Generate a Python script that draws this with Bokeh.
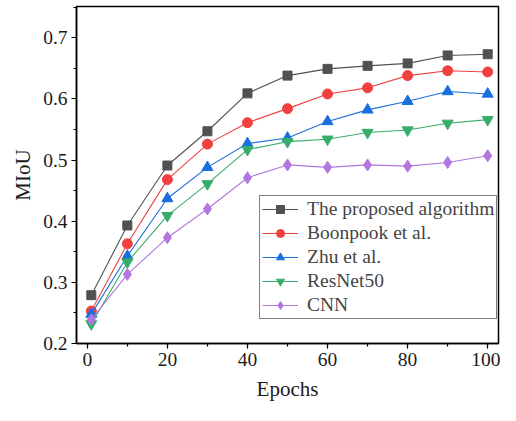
from bokeh.plotting import figure
from bokeh.models import SingleIntervalTicker, Range1d, Legend, LegendItem
from bokeh.embed import file_html
from bokeh.resources import INLINE

epochs = [1, 10, 20, 30, 40, 50, 60, 70, 80, 90, 100]
proposed = [0.279, 0.393, 0.491, 0.547, 0.609, 0.638, 0.649, 0.654, 0.658, 0.671, 0.673]
boonpook = [0.253, 0.363, 0.468, 0.526, 0.561, 0.584, 0.608, 0.618, 0.638, 0.646, 0.644]
zhu = [0.248, 0.343, 0.437, 0.488, 0.527, 0.536, 0.563, 0.582, 0.596, 0.612, 0.608]
resnet50 = [0.232, 0.333, 0.409, 0.461, 0.517, 0.530, 0.534, 0.545, 0.549, 0.560, 0.566]
cnn = [0.239, 0.313, 0.373, 0.420, 0.471, 0.492, 0.488, 0.492, 0.490, 0.496, 0.507]

names = ["The proposed algorithm", "Boonpook et al.", "Zhu et al.", "ResNet50", "CNN"]
series = [proposed, boonpook, zhu, resnet50, cnn]
colors = ["#515151", "#F14040", "#1A6FDF", "#37AD6B", "#B177DE"]
markers = ["square", "circle", "triangle", "inverted_triangle", "diamond"]
sizes = [9, 10, 11, 11, 12]

FONT = "Liberation Serif"

p = figure(width=500, height=405, output_backend="svg", toolbar_location=None,
           x_range=Range1d(-2.7, 102.7), y_range=Range1d(0.2, 0.751),
           min_border_left=76, min_border_right=2, min_border_top=6, min_border_bottom=62)
p.xgrid.visible = False
p.ygrid.visible = False
p.outline_line_color = "black"
p.outline_line_width = 1.5
p.background_fill_color = "white"
p.border_fill_color = "white"

items = []
for name, ys, c, m, s in zip(names, series, colors, markers, sizes):
    r1 = p.line(epochs, ys, line_color=c, line_width=1.1)
    r2 = p.scatter(epochs, ys, marker=m, size=s, fill_color=c, line_color=c)
    items.append(LegendItem(label=name, renderers=[r1, r2]))

legend = Legend(items=items, location=(183, 24), border_line_color="black", border_line_width=1,
                label_text_font=FONT, label_text_font_size="19.5px", glyph_width=36, glyph_height=20,
                label_standoff=9, spacing=2, padding=2, margin=0, background_fill_alpha=1)
p.add_layout(legend, "center")

p.xaxis.ticker = SingleIntervalTicker(interval=20, num_minor_ticks=2)
p.yaxis.ticker = SingleIntervalTicker(interval=0.1, num_minor_ticks=2)
for ax in (p.xaxis, p.yaxis):
    ax.axis_line_width = 1.5
    ax.major_tick_in = 0
    ax.major_tick_out = 5
    ax.minor_tick_in = 0
    ax.minor_tick_out = 3
    ax.major_tick_line_width = 1.2
    ax.minor_tick_line_width = 1.2
    ax.major_label_text_font = FONT
    ax.major_label_text_font_size = "19.5px"
    ax.major_label_text_color = "#1a1a1a"
    ax.axis_label_text_font = FONT
    ax.axis_label_text_font_size = "21px"
    ax.axis_label_text_font_style = "normal"
    ax.axis_label_text_color = "#1a1a1a"
p.xaxis.axis_label = "Epochs"
p.yaxis.axis_label = "MIoU"
p.xaxis.major_label_standoff = 4
p.yaxis.major_label_standoff = 4
p.xaxis.axis_label_standoff = 8
p.yaxis.axis_label_standoff = 5

open("out.html", "w").write(file_html(p, INLINE))
